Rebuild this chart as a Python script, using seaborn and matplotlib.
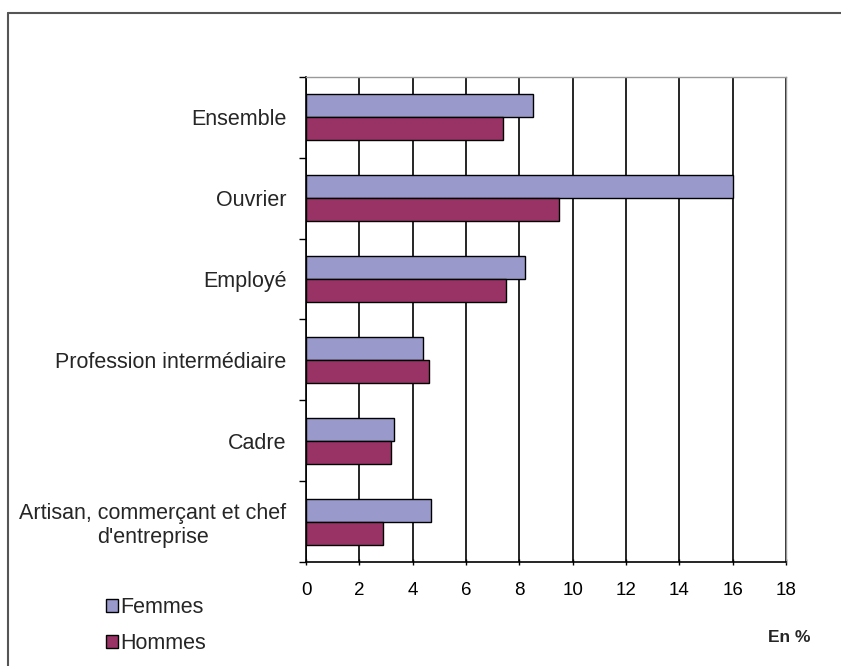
import matplotlib
matplotlib.use("Agg")
import matplotlib.pyplot as plt
from matplotlib.lines import Line2D
from matplotlib.patches import Patch
import seaborn as sns
import pandas as pd

# data (en %)
categories = ["Ensemble", "Ouvrier", "Employé", "Profession intermédiaire", "Cadre",
              "Artisan, commerçant et chef\nd'entreprise"]
femmes = [8.5, 16.0, 8.2, 4.4, 3.3, 4.7]
hommes = [7.4, 9.5, 7.5, 4.6, 3.2, 2.9]
series = ["Femmes", "Hommes"]
colors = ["#9999CC", "#993366"]

df = pd.DataFrame({
    "cat": categories * 2,
    "val": femmes + hommes,
    "sexe": ["Femmes"] * len(categories) + ["Hommes"] * len(categories),
})

sns.set_style("white")
plt.rcParams["font.family"] = ["Liberation Sans", "DejaVu Sans"]

fig = plt.figure(figsize=(8.41, 6.66), dpi=100)
ax = fig.add_axes([306 / 841, 1 - 562 / 666, 480 / 841, (562 - 77) / 666])

sns.barplot(data=df, y="cat", x="val", hue="sexe", orient="h", order=categories,
            hue_order=series, palette=colors, saturation=1, width=0.57, gap=0,
            dodge=True, edgecolor="black", linewidth=1, errorbar=None, legend=False,
            ax=ax, zorder=3)

ax.set_xlim(0, 18)
ax.set_ylim(len(categories) - 0.5, -0.5)
ax.set_xticks(range(0, 19, 2))
ax.xaxis.grid(True, color="black", linewidth=1.2, zorder=0)
ax.set_axisbelow(True)
ax.tick_params(axis="x", bottom=True, length=5, width=1, direction="inout", pad=12,
               labelsize=13.5, colors="black")

# category ticks at the group boundaries, labels centred on the groups
ax.set_yticks([i - 0.5 for i in range(len(categories) + 1)], minor=False)
ax.set_yticklabels([])
ax.set_yticks(range(len(categories)), minor=True)
ax.set_yticklabels(categories, minor=True, fontsize=15.5, ha="right")
for t in ax.get_yticklabels(minor=True):
    t.set_multialignment("center")
ax.tick_params(axis="y", which="major", left=True, length=5, width=1, direction="out",
               colors="black")
ax.tick_params(axis="y", which="minor", left=True, length=0, pad=14)
ax.set_xlabel("")
ax.set_ylabel("")

for s in ["left", "bottom"]:
    ax.spines[s].set_color("black")
    ax.spines[s].set_linewidth(1.2)
for s in ["top", "right"]:
    ax.spines[s].set_color("#999999")
    ax.spines[s].set_linewidth(1)

handles = [Patch(facecolor=c, edgecolor="black", linewidth=1) for c in colors]
fig.legend(handles, series, loc="upper left", bbox_to_anchor=(95 / 841, 1 - 586 / 666),
           frameon=False, fontsize=15.5, handlelength=0.55, handleheight=0.55,
           handletextpad=0.1, labelspacing=0.7, borderpad=0)

fig.text(768 / 841, 1 - 637 / 666, "En %", fontsize=12.5, fontweight="bold",
         ha="left", va="center")

# outer frame (cut off on right and bottom)
fig.add_artist(Line2D([8 / 841, 8 / 841], [0, 1 - 13 / 666], transform=fig.transFigure,
                      color="#555555", linewidth=1.5))
fig.add_artist(Line2D([8 / 841, 1], [1 - 13 / 666, 1 - 13 / 666], transform=fig.transFigure,
                      color="#555555", linewidth=1.5))

fig.savefig("out.png", dpi=100)
